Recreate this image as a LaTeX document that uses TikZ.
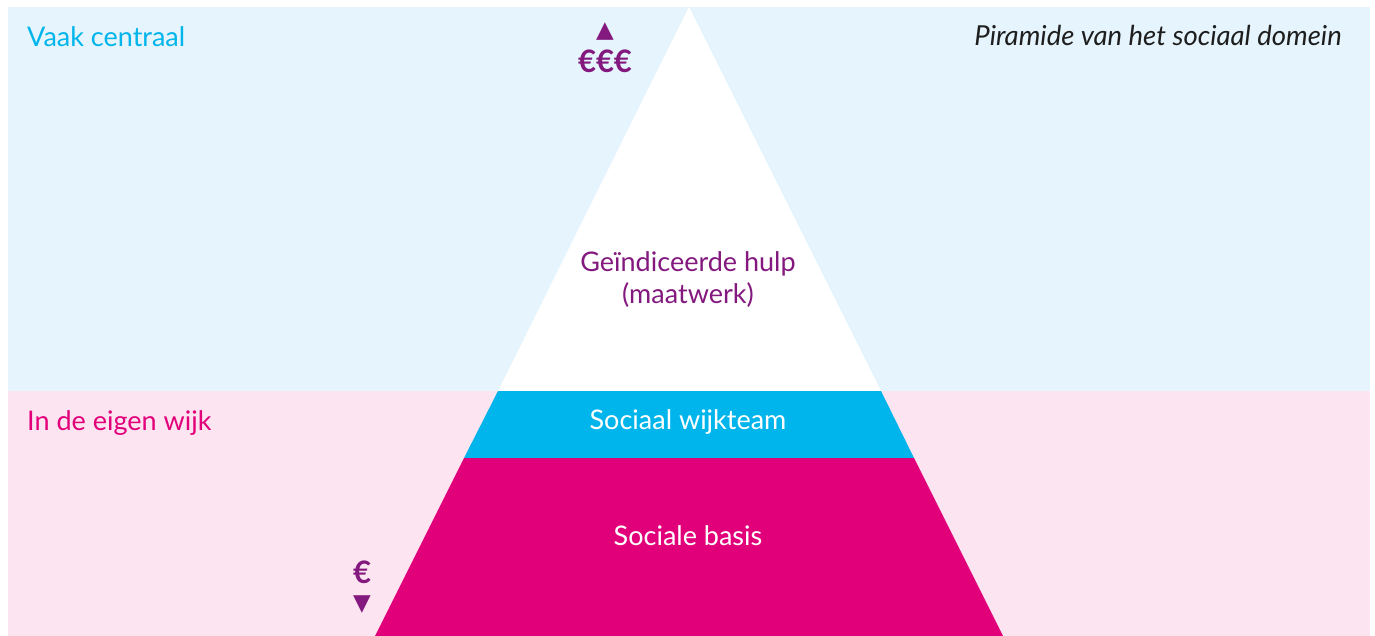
\documentclass[tikz,border=0pt]{standalone}
\usepackage{fontspec}
\setmainfont{Lato}
\newfontfamily\symfont{DejaVu Sans}
\definecolor{bgblue}{HTML}{E5F4FD}
\definecolor{bgpink}{HTML}{FCE4F0}
\definecolor{pcyan}{HTML}{00B5EB}
\definecolor{pmagenta}{HTML}{E2007A}
\definecolor{ppurple}{HTML}{83197F}
\definecolor{tdark}{HTML}{1E1E1E}
\tikzset{
  lbl/.style={inner sep=0pt, font=\fontsize{27}{32}\selectfont},
  eur/.style={inner sep=0pt, text=ppurple, font=\fontsize{31}{34}\selectfont\bfseries},
  sym/.style={inner sep=0pt, text=ppurple, font=\symfont\fontsize{23}{26}\selectfont},
}
\begin{document}
\begin{tikzpicture}[x=1pt,y=-1pt]
\useasboundingbox (0,0) rectangle (1375,636);
% background bands
\fill[bgblue] (8,7) rectangle (1370,391);
\fill[bgpink] (8,391) rectangle (1370,636);
% pyramid
\coordinate (apex) at (689,7);
\coordinate (l1) at (498,391);
\coordinate (r1) at (881,391);
\coordinate (l2) at (464,458);
\coordinate (r2) at (914,458);
\coordinate (l3) at (375,636);
\coordinate (r3) at (1003,636);
\fill[white] (apex) -- (r1) -- (l1) -- cycle;
\fill[pcyan] (l1) -- (r1) -- (r2) -- (l2) -- cycle;
\fill[pmagenta] (l2) -- (r2) -- (r3) -- (l3) -- cycle;
% labels
\node[lbl, text=pcyan, anchor=base west] (vaak) at (27,47) {Vaak centraal};
\node[lbl, text=pmagenta, anchor=base west] (wijk) at (27,430) {In de eigen wijk};
\node[lbl, text=tdark, anchor=base east, font=\fontsize{27.5}{32}\selectfont\itshape] (titel) at (1342,46) {Piramide van het sociaal domein};
\node[lbl, text=ppurple, anchor=base] (hulp) at (688,272) {Geïndiceerde hulp};
\node[lbl, text=ppurple, anchor=base] (maat) at (688,303) {(maatwerk)};
\node[lbl, text=white, anchor=base] (team) at (688,429) {Sociaal wijkteam};
\node[lbl, text=white, anchor=base] (basis) at (688,545) {Sociale basis};
% euro indicators
\node[sym, anchor=south] (up) at (605,41) {▲};
\node[eur, anchor=base] (eee) at (605,73) {€€€};
\node[eur, anchor=base] (e) at (362,583) {€};
\node[sym, anchor=north] (down) at (362,596) {▼};
\end{tikzpicture}
\end{document}
